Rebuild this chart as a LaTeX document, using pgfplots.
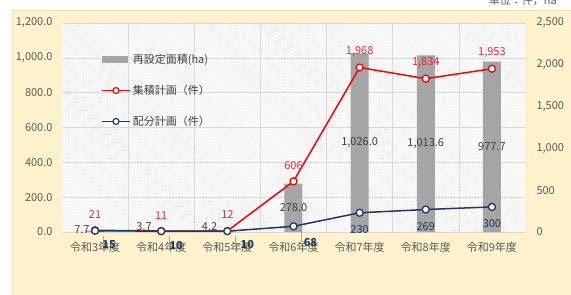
\documentclass[border=0pt]{standalone}
\usepackage{fontspec}
\setmainfont{Noto Sans CJK JP}
\usepackage{pgfplots}
\pgfplotsset{compat=1.18}
\usetikzlibrary{patterns}
\pgfkeys{/pgf/number format/assume math mode=true}
\definecolor{cream}{HTML}{FFF2CC}
\definecolor{creamEdge}{HTML}{F2E2B6}
\definecolor{barGray}{HTML}{A5A5A5}
\definecolor{lineRed}{HTML}{FF0000}
\definecolor{labRed}{HTML}{F0243C}
\definecolor{navy}{HTML}{1F3864}
\definecolor{tickGray}{HTML}{595959}
\definecolor{labGray}{HTML}{404040}
\definecolor{gridGray}{HTML}{D9D9D9}
\newcommand{\fs}{\fontsize{11bp}{13bp}\selectfont}
\begin{document}
\begin{tikzpicture}[font=\fs]
\useasboundingbox (-62bp,-63bp) rectangle (509bp,232bp);
\fill[cream] (-50bp,-63bp) rectangle (509bp,222bp);
\draw[creamEdge, line width=0.8bp] (-50bp,-63bp) -- (-50bp,222bp) -- (509bp,222bp);
\node[anchor=east, text=tickGray, inner sep=0pt] at (495bp,232bp) {単位：件，ha};

\begin{axis}[
  at={(0,0)}, anchor=south west,
  scale only axis, width=463bp, height=209bp,
  xmin=-0.5, xmax=6.5, ymin=0, ymax=1200,
  xtick={0,...,6},
  xticklabels={令和3年度,令和4年度,令和5年度,令和6年度,令和7年度,令和8年度,令和9年度},
  ytick={0,200,...,1200},
  minor xtick={0.5,1.5,...,5.5},
  xminorgrids, ymajorgrids,
  grid style={gridGray, line width=0.5bp},
  minor grid style={gridGray, line width=0.5bp},
  axis line style={draw=none},
  major tick length=0, minor tick length=0,
  tick label style={text=tickGray, font=\fs},
  xticklabel style={yshift=-7bp},
  yticklabel style={xshift=-6bp, /pgf/number format/.cd, fixed, fixed zerofill, precision=1, 1000 sep={,}},
  axis background/.style={fill=white, postaction={pattern=north west lines, pattern color=gray!18}},
  legend style={at={(0.078,0.87)}, anchor=north west, draw=none, fill=none,
    font=\fs, row sep=16bp, text=labGray},
  legend cell align=left,
  clip=false,
]
\addplot[ybar, bar width=18bp, fill=barGray, draw=none,
  legend image code/.code={\fill[barGray] (0bp,-3.5bp) rectangle (26bp,3.5bp);}]
  coordinates {(0,7.7) (1,3.7) (2,4.2) (3,278.0) (4,1026.0) (5,1013.6) (6,977.7)};
\addlegendentry{再設定面積(ha)}
\addlegendimage{legend image code/.code={\draw[lineRed, line width=1.5bp] (0bp,0bp) -- (28bp,0bp); \draw[lineRed, line width=1.2bp, fill=white] (14bp,0bp) circle (3bp);}}
\addlegendentry{集積計画（件）}
\addlegendimage{legend image code/.code={\draw[navy, line width=1.5bp] (0bp,0bp) -- (28bp,0bp); \draw[navy, line width=1.2bp, fill=white] (14bp,0bp) circle (3bp);}}
\addlegendentry{配分計画（件）}
\begin{scope}[every node/.style={text=labGray, font=\fs, inner sep=0pt}]
\node[anchor=east] at (axis cs:-0.08,11.5) {7.7};
\node[anchor=east] at (axis cs:0.86,34) {3.7};
\node[anchor=east] at (axis cs:1.85,34) {4.2};
\node at (axis cs:3,139) {278.0};
\node at (axis cs:4,513) {1,026.0};
\node at (axis cs:5,507) {1,013.6};
\node at (axis cs:6,489) {977.7};
\end{scope}
\end{axis}

\begin{axis}[
  at={(0,0)}, anchor=south west,
  scale only axis, width=463bp, height=209bp,
  xmin=-0.5, xmax=6.5, ymin=0, ymax=2500,
  axis x line=none, axis y line*=right,
  ytick={0,500,...,2500},
  axis line style={draw=none},
  major tick length=0,
  tick label style={text=tickGray, font=\fs},
  yticklabel style={xshift=8bp, /pgf/number format/.cd, fixed, 1000 sep={,}},
  clip=false,
]
\addplot[lineRed, line width=1.5bp, mark=*, mark size=3.5bp,
  mark options={fill=white, draw=lineRed, line width=1.3bp},
  nodes near coords={\pgfmathprintnumber[fixed,1000 sep={,}]{\pgfplotspointmeta}},
  every node near coord/.style={anchor=center, yshift=16bp, text=labRed, font=\fs, inner sep=0pt}]
  coordinates {(0,21) (1,11) (2,12) (3,606) (4,1968) (5,1834) (6,1953)};
\addplot[navy, line width=1.5bp, mark=*, mark size=3.5bp,
  mark options={fill=white, draw=navy, line width=1.3bp}]
  coordinates {(0,15) (1,10) (2,10) (3,68) (4,230) (5,269) (6,300)};
\begin{scope}[every node/.style={text=navy, font=\fs, inner sep=0pt}]
\draw[gray!70, line width=0.4bp] ([xshift=8bp,yshift=-5bp]axis cs:0,15) |- ([xshift=10bp,yshift=-14bp]axis cs:0,15);
\node at ([xshift=14bp,yshift=-14bp]axis cs:0,15) {\bfseries 15};
\draw[gray!70, line width=0.4bp] ([xshift=8bp,yshift=-5bp]axis cs:1,10) |- ([xshift=10bp,yshift=-14bp]axis cs:1,10);
\node at ([xshift=15bp,yshift=-14bp]axis cs:1,10) {\bfseries 10};
\draw[gray!70, line width=0.4bp] ([xshift=8bp,yshift=-5bp]axis cs:2,10) |- ([xshift=14bp,yshift=-13bp]axis cs:2,10);
\node at ([xshift=20bp,yshift=-13bp]axis cs:2,10) {\bfseries 10};
\draw[gray!70, line width=0.4bp] ([xshift=8bp,yshift=-5bp]axis cs:3,68) |- ([xshift=12bp,yshift=-15bp]axis cs:3,68);
\node at ([xshift=17bp,yshift=-16bp]axis cs:3,68) {\bfseries 68};
\node at ([yshift=-17bp]axis cs:4,230) {230};
\node at ([yshift=-17bp]axis cs:5,269) {269};
\node at ([yshift=-17bp]axis cs:6,300) {300};
\end{scope}
\end{axis}
\end{tikzpicture}
\end{document}
